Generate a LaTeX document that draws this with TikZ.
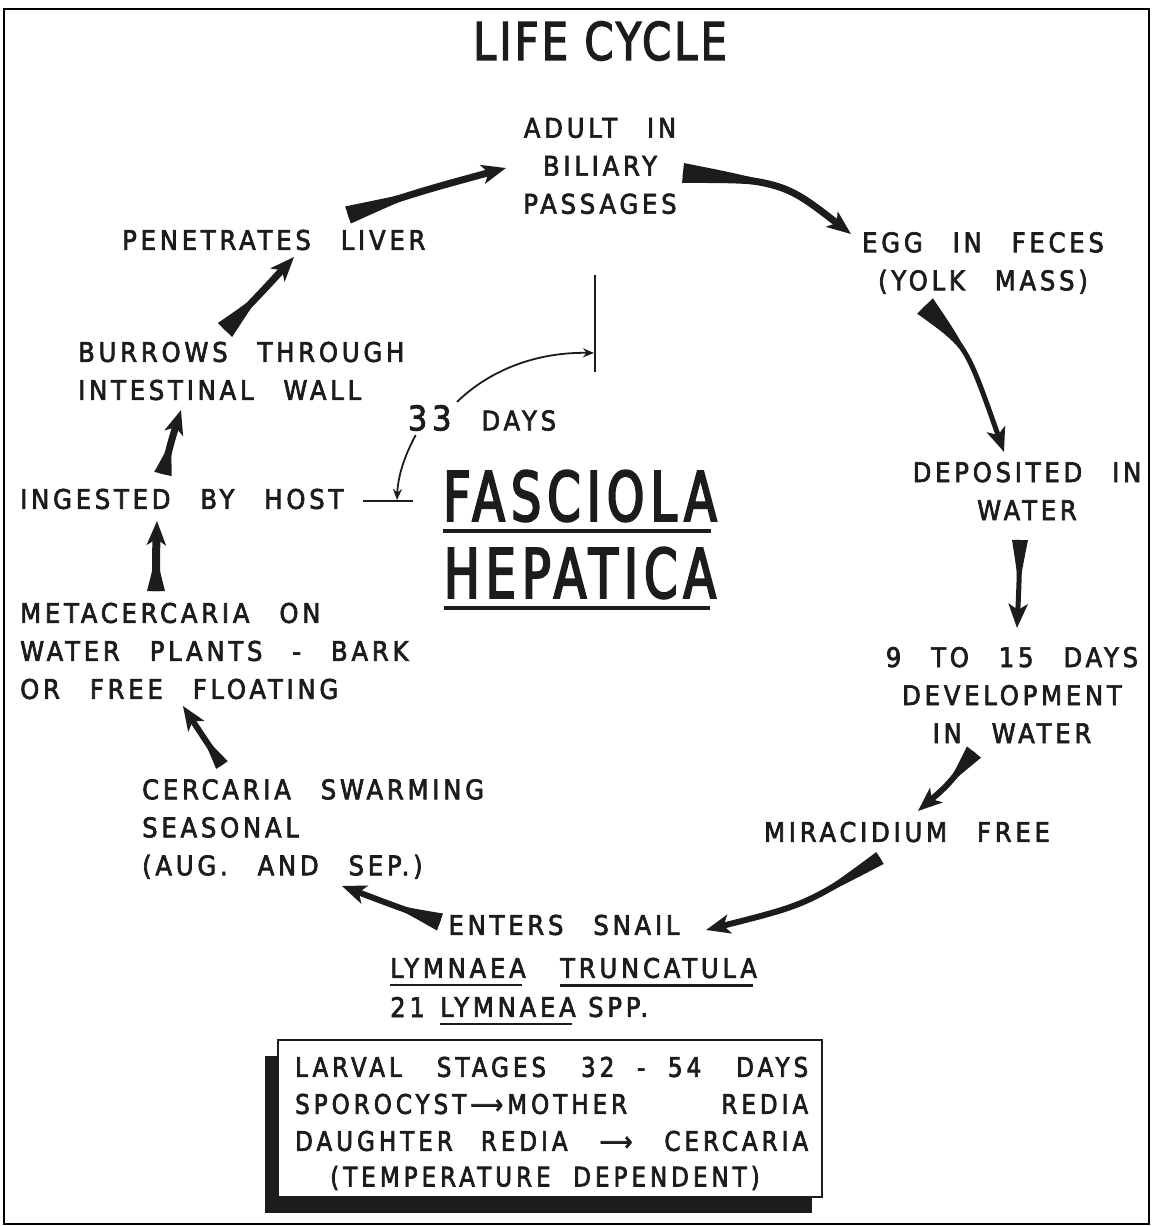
\documentclass[tikz,border=0pt]{standalone}
\usepackage{fontspec}
\usetikzlibrary{arrows.meta,calc}
\newfontfamily\lf[FakeStretch=0.9,LetterSpace=14,WordSpace=2.6,FakeBold=2.5]{DejaVu Sans}
\newfontfamily\lfbox[FakeStretch=0.85,LetterSpace=15,WordSpace=2.0,FakeBold=2.5]{DejaVu Sans}
\newfontfamily\lft[FakeStretch=0.8,LetterSpace=6,FakeBold=2.5]{DejaVu Sans}
\newfontfamily\lfb[FakeStretch=0.7,LetterSpace=9,FakeBold=3]{DejaVu Sans}
\definecolor{ink}{RGB}{28,28,28}
\newcommand{\taperarrow}[5]{%
  \fill[ink] ($(#1)!#4!90:(#2)$) .. controls (#2) .. (#3) .. controls (#2) .. ($(#1)!#4!-90:(#2)$) -- cycle;
  \draw[ink, line width=#5, -{Stealth[length=24pt,width=19pt,inset=6pt]}] (#1) .. controls (#2) .. (#3);
}
\tikzset{
  lbl/.style={font={\lf\fontsize{27}{38}\selectfont}, inner sep=0pt, text=ink},
  bxl/.style={font={\lfbox\fontsize{27}{38}\selectfont}, inner sep=0pt, text=ink},
  ul/.style={ink, line width=2.4pt},
  thinl/.style={ink, line width=1.8pt}
}
\begin{document}
\begin{tikzpicture}[x=1pt,y=-1pt]
\useasboundingbox (0,0) rectangle (1152,1226);
\fill[white] (0,0) rectangle (1152,1226);
\draw[black, line width=2.5pt] (4,9) rectangle (1149,1224);

% title
\node[font={\lft\fontsize{52}{60}\selectfont}, inner sep=0pt, text=ink] (title) at (600,41) {LIFE CYCLE};

% stages
\node[lbl,align=center] (adult) at (600,166) {ADULT IN\\BILIARY\\PASSAGES};
\node[lbl,align=center] (egg) at (983,263) {EGG IN FECES\\(YOLK MASS)};
\node[lbl,align=center] (dep) at (1027,491) {DEPOSITED IN\\WATER};
\node[lbl,align=center] (dev) at (1012,695) {9 TO 15 DAYS\\DEVELOPMENT\\IN WATER};
\node[lbl] (mir) at (907,832) {MIRACIDIUM FREE};
\node[lbl] (ent) at (564,925) {ENTERS SNAIL};
\node[lbl,anchor=west] (lymA) at (390,968) {LYMNAEA};
\node[lbl,anchor=west] (trunc) at (560,968) {TRUNCATULA};
\node[lbl,anchor=west] (n21) at (390,1007) {21};
\node[lbl,anchor=west] (lymB) at (440,1007) {LYMNAEA};
\node[lbl,anchor=west] (spp) at ($(lymB.east)+(12,0)$) {SPP.};
\draw[ul] ($(lymA.south west)+(0,7)$) -- ($(lymA.south east)+(-4,7)$);
\draw[ul] ($(trunc.south west)+(0,7)$) -- ($(trunc.south east)+(-4,7)$);
\draw[ul] ($(lymB.south west)+(0,7)$) -- ($(lymB.south east)+(-4,7)$);
\node[lbl,align=left,anchor=west] (cer) at (142,829) {CERCARIA SWARMING\\SEASONAL\\(AUG. AND SEP.)};
\node[lbl,align=left,anchor=west] (meta) at (20,651) {METACERCARIA ON\\WATER PLANTS - BARK\\OR FREE FLOATING};
\node[lbl,anchor=west] (ing) at (20,499) {INGESTED BY HOST};
\node[lbl,align=left,anchor=west] (bur) at (78,371) {BURROWS THROUGH\\INTESTINAL WALL};
\node[lbl,anchor=west] (pen) at (122,240) {PENETRATES LIVER};

% centre title
\node[font={\lfb\fontsize{68}{80}\selectfont}, inner sep=0pt, text=ink] (fas) at (580,496) {FASCIOLA};
\node[font={\lfb\fontsize{68}{80}\selectfont}, inner sep=0pt, text=ink] (hep) at (580,573) {HEPATICA};
\draw[ink, line width=4pt] ($(fas.south west)+(0,9)$) -- ($(fas.south east)+(-6,9)$);
\draw[ink, line width=4pt] ($(hep.south west)+(0,9)$) -- ($(hep.south east)+(-6,9)$);

% 33 days
\node[lbl] (d33) at (482,418) {{\fontsize{34}{38}\selectfont 33} DAYS};
\coordinate (vbT) at (595,275);
\coordinate (vbB) at (595,372);
\coordinate (vbM) at (594,353);
\coordinate (hbL) at (363,501);
\coordinate (hbR) at (413,501);
\coordinate (hbM) at (397,500);
\draw[thinl] (vbT) -- (vbB);
\draw[thinl] (hbL) -- (hbR);
\draw[thinl,-{Stealth[length=11pt,width=9pt]}] ($(d33.north)+(-25,-3)$) .. controls (495,365) and (545,352) .. (vbM);
\draw[thinl,-{Stealth[length=11pt,width=9pt]}] ($(d33.south west)+(8,4)$) .. controls (405,455) and (398,475) .. (hbM);

% tapered cycle arrows
\coordinate (a1t) at (348,215); \coordinate (a1c) at (425,190); \coordinate (a1h) at (506,168);
\coordinate (a2t) at (683,173); \coordinate (a2c) at (785,183); \coordinate (a2h) at (851,234);
\coordinate (a3t) at (925,306); \coordinate (a3c) at (968,350); \coordinate (a3h) at (1004,452);
\coordinate (a4t) at (1020,540); \coordinate (a4c) at (1019,585); \coordinate (a4h) at (1017,628);
\coordinate (a5t) at (974,752); \coordinate (a5c) at (948,785); \coordinate (a5h) at (918,811);
\coordinate (a6t) at (880,858); \coordinate (a6c) at (805,905); \coordinate (a6h) at (706,930);
\coordinate (a7t) at (440,922); \coordinate (a7c) at (392,905); \coordinate (a7h) at (342,886);
\coordinate (a8t) at (222,765); \coordinate (a8c) at (202,735); \coordinate (a8h) at (183,706);
\coordinate (a9t) at (156,591); \coordinate (a9c) at (156,556); \coordinate (a9h) at (157,521);
\coordinate (a10t) at (163,474); \coordinate (a10c) at (171,442); \coordinate (a10h) at (181,410);
\coordinate (a11t) at (225,330); \coordinate (a11c) at (260,294); \coordinate (a11h) at (294,257);
\taperarrow{a1t}{a1c}{a1h}{9pt}{7pt}
\taperarrow{a2t}{a2c}{a2h}{10pt}{7pt}
\taperarrow{a3t}{a3c}{a3h}{11pt}{5pt}
\taperarrow{a4t}{a4c}{a4h}{8pt}{5pt}
\taperarrow{a5t}{a5c}{a5h}{9pt}{6pt}
\taperarrow{a6t}{a6c}{a6h}{7pt}{6pt}
\taperarrow{a7t}{a7c}{a7h}{9pt}{6pt}
\taperarrow{a8t}{a8c}{a8h}{7pt}{6pt}
\taperarrow{a9t}{a9c}{a9h}{9pt}{8pt}
\taperarrow{a10t}{a10c}{a10h}{9pt}{7pt}
\taperarrow{a11t}{a11c}{a11h}{10pt}{7pt}

% larval box
\fill[ink] (265,1056) rectangle (812,1213);
\draw[ink, fill=white, line width=2.5pt] (278,1040) rectangle (822,1197);
\node[bxl,anchor=west] (bx1) at (295,1067) {\makebox[513pt][l]{LARVAL\hfill STAGES\hfill 32 - 54\hfill DAYS}};
\node[bxl,anchor=west] (bx2) at (295,1104) {\makebox[513pt][l]{SPOROCYST⟶MOTHER\hfill REDIA}};
\node[bxl,anchor=west] (bx3) at (295,1141) {\makebox[513pt][l]{DAUGHTER\hspace{28pt}REDIA\hfill ⟶\hfill CERCARIA}};
\node[bxl] (bx4) at (545,1178) {(TEMPERATURE DEPENDENT)};
\end{tikzpicture}
\end{document}
